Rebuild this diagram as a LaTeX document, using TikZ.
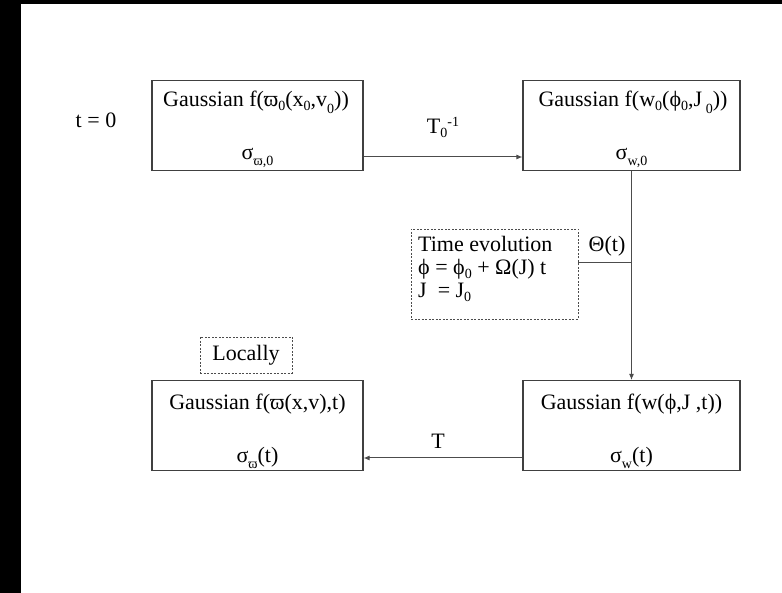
\documentclass[tikz,border=0pt]{standalone}
\usepackage{fontspec}
\setmainfont{Liberation Serif}
\usetikzlibrary{arrows.meta}
\newcommand\lo[2][0.35ex]{\raisebox{-#1}{\fontsize{14}{14}\selectfont #2}}
\newcommand\hi[1]{\raisebox{0.75ex}{\fontsize{14}{14}\selectfont #1}}
\begin{document}
\begin{tikzpicture}[x=1pt,y=-1pt,
  every node/.style={font=\fontsize{22}{22}\selectfont, inner sep=0pt},
  box/.style={draw=black!75, line width=1.1pt, minimum height=90pt, inner sep=0pt},
  dbox/.style={draw=black!70, dash pattern=on 2pt off 1.5pt, line width=0.8pt, inner sep=0pt},
  conn/.style={draw=black!70, line width=1pt},
  arr/.style={conn, -{Latex[length=6pt,width=5pt]}}]
\useasboundingbox (0,0) rectangle (782,593);
\fill[white] (0,0) rectangle (782,593);
\fill[black] (0,0) rectangle (21,593);
\fill[black] (0,0) rectangle (782,4);

% boxes
\node[box, minimum width=211pt] (b1) at (257.5,125.5) {};
\node[box, minimum width=217pt] (b2) at (631.5,125.5) {};
\node[box, minimum width=217pt] (b3) at (631.5,425.5) {};
\node[box, minimum width=211pt] (b4) at (257.5,425.5) {};

% box texts
\node[anchor=base] (t1) at (256,107) {Gaussian f(ϖ\lo{0}(x\lo{0},v\lo[0.6ex]{0}))};
\node[anchor=base] (s1) at (257.5,160) {σ\lo[0.5ex]{ϖ,0}};
\node[anchor=base] (t2) at (633,107) {Gaussian f(w\lo{0}(ϕ\lo{0},J\,\lo[0.6ex]{0}))};
\node[anchor=base] (s2) at (631.5,160) {σ\lo[0.5ex]{w,0}};
\node[anchor=base] (t3) at (631.5,410) {Gaussian f(w(ϕ,J ,t))};
\node[anchor=base] (s3) at (631.5,463) {σ\lo[0.5ex]{w}(t)};
\node[anchor=base] (t4) at (257.5,410) {Gaussian f(ϖ(x,v),t)};
\node[anchor=base] (s4) at (257.5,463) {σ\lo[0.5ex]{ϖ}(t)};

% labels
\node[anchor=base] (tz) at (96,128) {t = 0};
\node[anchor=base] (lT0) at (443,134) {T\lo{0}\hi{-1}};
\node[anchor=base] (lT) at (438,449) {T};
\node[anchor=base] (lTh) at (607,252) {Θ(t)};

% time evolution box
\node[dbox, minimum width=167pt, minimum height=90pt] (te) at (494.5,274) {};
\node[anchor=base west] (te1) at (418,252) {Time evolution};
\node[anchor=base west] (te2) at (418,275) {ϕ = ϕ\lo{0} + Ω(J) t};
\node[anchor=base west] (te3) at (418,298) {J \ = J\lo{0}};

% locally box
\node[dbox, minimum width=92pt, minimum height=36pt] (loc) at (246,355) {Locally};

% connectors
\coordinate (ya) at (0,157);
\coordinate (yb) at (0,263);
\coordinate (yc) at (0,458);
\draw[arr] (b1.east |- ya) -- (b2.west |- ya);
\draw[arr] (b2.south) -- (b3.north);
\draw[conn] (te.east |- yb) -- (b2.south |- yb);
\draw[arr] (b3.west |- yc) -- (b4.east |- yc);
\end{tikzpicture}
\end{document}
